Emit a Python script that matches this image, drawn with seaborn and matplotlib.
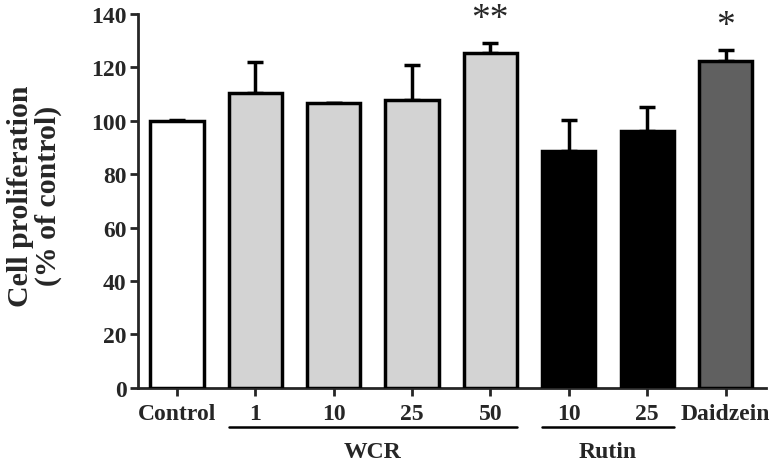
import matplotlib
matplotlib.use("Agg")
import matplotlib.pyplot as plt
import seaborn as sns

categories = ['Control', '1', '10', '25', '50', 'Rutin 10', 'Rutin 25', 'Daidzein']
tick_labels = ['Control', '1', '10', '25', '50', '10', '25', 'Daidzein']
means = [100, 110.3, 106.5, 107.8, 125.2, 88.7, 96.0, 122.2]
errors = [0.3, 11.8, 0.3, 13.2, 4.0, 11.4, 9.3, 4.2]
colors = ['#ffffff', '#d3d3d3', '#d3d3d3', '#d3d3d3', '#d3d3d3', '#000000', '#000000', '#606060']
stars = {4: '**', 7: '*'}
groups = [('WCR', 1, 4), ('Rutin', 5, 6)]

sns.set_style("ticks")
plt.rcParams['font.family'] = ['Liberation Serif', 'DejaVu Serif']
plt.rcParams['font.weight'] = 'bold'

fig = plt.figure(figsize=(7.74, 4.64), dpi=100)
ax = fig.add_axes([0.178, 0.162, 0.812, 0.806])

sns.barplot(x=categories, y=means, hue=categories, palette=colors, legend=False,
            width=0.68, edgecolor='black', linewidth=2.5, ax=ax, zorder=3)
ax.errorbar(range(len(means)), means, yerr=[[0] * len(errors), errors], fmt='none',
            ecolor='black', elinewidth=2.5, capsize=6, capthick=2.5, zorder=2)

for i, s in stars.items():
    ax.text(i, means[i] + errors[i] + 2.5, s, ha='center', va='bottom', fontsize=27,
            fontweight='normal')

ax.set_xlim(-0.5, 7.52)
ax.set_ylim(0, 140)
ax.set_yticks(range(0, 141, 20))
ax.set_xticks(range(len(categories)))
ax.set_xticklabels(tick_labels, fontsize=17, fontweight='bold')
ax.tick_params(axis='y', labelsize=17, width=2, length=6, pad=2)
ax.tick_params(axis='x', width=2, length=6, pad=5)
for lab in ax.get_yticklabels():
    lab.set_fontweight('bold')
sns.despine(ax=ax)
ax.spines['left'].set_linewidth(2)
ax.spines['bottom'].set_linewidth(2)
ax.set_ylabel('Cell proliferation\n(% of control)', fontsize=21.5, fontweight='bold',
              linespacing=1.0)
ax.yaxis.set_label_coords(-0.121, 0.515)

trans = ax.get_xaxis_transform()
for name, a, b in groups:
    ax.plot([a - 0.34, b + 0.34], [-0.105, -0.105], color='black', lw=1.8,
            transform=trans, clip_on=False)
    ax.text((a + b) / 2, -0.17, name, ha='center', va='center', fontsize=17,
            fontweight='bold', transform=trans)

fig.savefig('out.png', dpi=100)
